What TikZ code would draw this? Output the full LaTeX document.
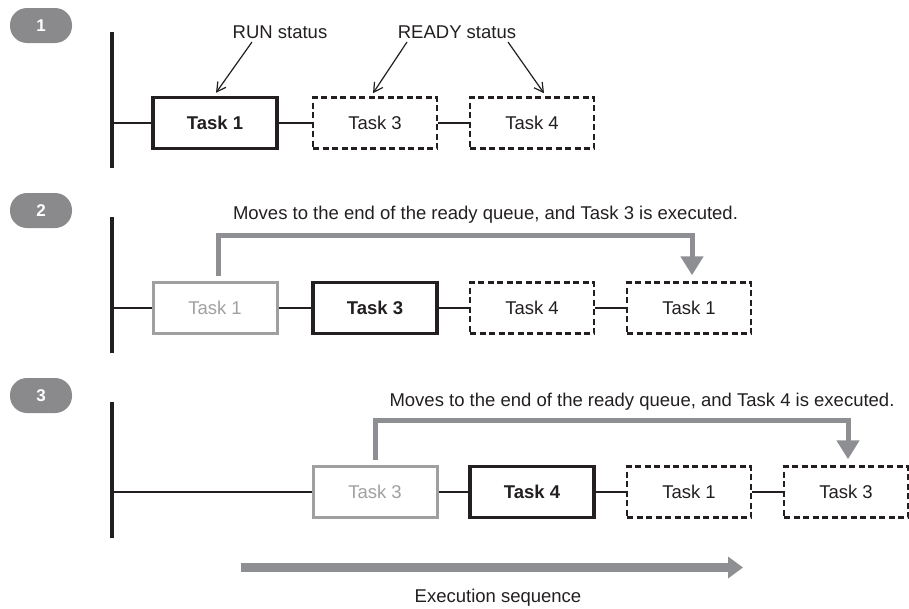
\documentclass[tikz,border=0pt]{standalone}
\usepackage{fontspec}
\setmainfont{Liberation Sans}
\usetikzlibrary{arrows.meta}
\definecolor{ink}{HTML}{231F20}
\definecolor{arrowgray}{HTML}{8E8F92}
\definecolor{badgegray}{HTML}{8A8A8C}
\definecolor{boxgray}{HTML}{A0A0A0}
\begin{document}
\begin{tikzpicture}[x=1pt, y=-1pt, ink, font=\fontsize{18.5}{22}\selectfont,
    task/.style={draw, minimum width=124pt, minimum height=51pt, inner sep=0pt},
    runbox/.style={task, line width=3.5pt, font=\fontsize{18.5}{22}\selectfont\bfseries},
    readybox/.style={task, line width=2.5pt, dash pattern=on 6pt off 3.5pt},
    donebox/.style={task, line width=3pt, draw=boxgray, text=boxgray},
    badge/.style={fill=badgegray, text=white, rounded corners=17pt, minimum width=62pt,
        minimum height=35pt, font=\fontsize{17}{20}\selectfont\bfseries},
    link/.style={line width=2.3pt},
    bar/.style={line width=4.5pt},
    pointer/.style={-{Straight Barb[length=9pt,width=10pt]}, line width=1.2pt},
    movearrow/.style={-{Triangle[length=19pt,width=22pt]}, line width=5pt, arrowgray}]
    \useasboundingbox (0,0) rectangle (909,608);

    % step 1
    \node[badge] (b1) at (41,25.5) {1};
    \coordinate (bar1top) at (112,32);
    \coordinate (bar1bot) at (112,168);
    \coordinate (bar1) at (112,123);
    \draw[bar] (bar1top) -- (bar1bot);
    \node[runbox] (t11) at (215,123) {Task 1};
    \node[readybox] (t13) at (375,123) {Task 3};
    \node[readybox] (t14) at (532,123) {Task 4};
    \draw[link] (bar1) -- (t11.west);
    \draw[link] (t11.east) -- (t13.west);
    \draw[link] (t13.east) -- (t14.west);
    \node (run) at (280,32) {RUN status};
    \node (ready) at (457,32) {READY status};
    \draw[pointer] ([xshift=-28pt]run.south) -- ([xshift=1pt,yshift=3pt]t11.north);
    \draw[pointer] ([xshift=-50pt]ready.south) -- ([xshift=-2pt,yshift=3pt]t13.north);
    \draw[pointer] ([xshift=51pt]ready.south) -- ([xshift=12pt,yshift=3pt]t14.north);

    % step 2
    \node[badge] (b2) at (41,210.5) {2};
    \coordinate (bar2top) at (112,217);
    \coordinate (bar2bot) at (112,353);
    \coordinate (bar2) at (112,308);
    \draw[bar] (bar2top) -- (bar2bot);
    \node[donebox] (t21) at (215,308) {Task 1};
    \node[runbox] (t23) at (375,308) {Task 3};
    \node[readybox] (t24) at (532,308) {Task 4};
    \node[readybox] (t25) at (689,308) {Task 1};
    \draw[link] (bar2) -- (t21.west);
    \draw[link] (t21.east) -- (t23.west);
    \draw[link] (t23.east) -- (t24.west);
    \draw[link] (t24.east) -- (t25.west);
    \node (msg2) at (485.5,215) {Moves to the end of the ready queue, and Task 3 is executed.};
    \draw[movearrow] ([xshift=3pt,yshift=5pt]t21.north) -- ++(0,-41)
        -| ([xshift=3pt,yshift=6pt]t25.north);

    % step 3
    \node[badge] (b3) at (41,395.5) {3};
    \coordinate (bar3top) at (112,402);
    \coordinate (bar3bot) at (112,538);
    \coordinate (bar3) at (112,492);
    \draw[bar] (bar3top) -- (bar3bot);
    \node[donebox] (t33) at (375,492) {Task 3};
    \node[runbox] (t34) at (532,492) {Task 4};
    \node[readybox] (t35) at (689,492) {Task 1};
    \node[readybox] (t36) at (846,492) {Task 3};
    \draw[link] (bar3) -- (t33.west);
    \draw[link] (t33.east) -- (t34.west);
    \draw[link] (t34.east) -- (t35.west);
    \draw[link] (t35.east) -- (t36.west);
    \node (msg3) at (642,402) {Moves to the end of the ready queue, and Task 4 is executed.};
    \draw[movearrow] ([yshift=5pt]t33.north) -- ++(0,-40)
        -| ([xshift=2pt,yshift=6pt]t36.north);

    % execution order
    \coordinate (seqstart) at (241,567.5);
    \coordinate (seqend) at (743,567.5);
    \draw[-{Triangle[length=15pt,width=21pt]}, line width=9pt, arrowgray] (seqstart) -- (seqend);
    \node (seq) at (498,598) {Execution sequence};
\end{tikzpicture}
\end{document}
